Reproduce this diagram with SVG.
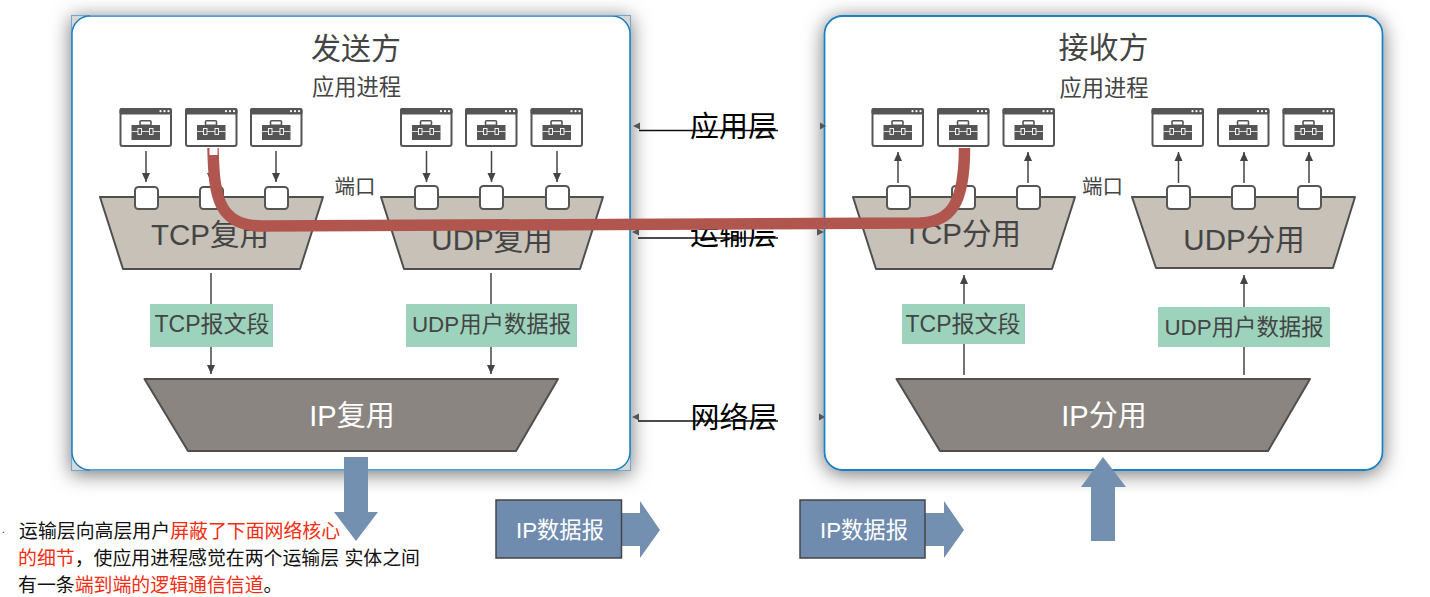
<svg xmlns="http://www.w3.org/2000/svg" width="1430" height="597" viewBox="0 0 1430 597">
<style>
text{font-family:"Liberation Sans","Noto Sans CJK SC",sans-serif;fill:#444}
.tm{text-anchor:middle}
.trap{fill:#c7c1b7;stroke:#4f4f4f;stroke-width:2;stroke-linejoin:round}
.ip{fill:#8a8581;stroke:#4f4f4f;stroke-width:2;stroke-linejoin:round}
.port{fill:#fff;stroke:#555;stroke-width:2}
.seg{fill:#9dd3bd}
.blue{fill:#7490b0}
.dg{fill:#6f8cae;stroke:#444;stroke-width:1.5}
.ln{stroke:#444;stroke-width:1.5;fill:none}
.layer{stroke:#111;stroke-width:1.5;fill:none}
.lt{font-size:29px;fill:#000}
.red{fill:#f52c10}
.blk{fill:#111}
.head{fill:#555}
</style>
<defs>
<filter id="sh" x="-10%" y="-10%" width="120%" height="120%">
<feDropShadow dx="0" dy="3" stdDeviation="10" flood-color="#000" flood-opacity="0.55"/>
</filter>
<marker id="ah" markerUnits="userSpaceOnUse" markerWidth="9" markerHeight="10" refX="9" refY="4.5" orient="auto">
<path d="M0 0.5L9 4.5L0 8.500z" fill="#444"/>
</marker>
<g id="win">
<rect x="1" y="1" width="50.5" height="37" rx="2" fill="#fff" stroke="#555" stroke-width="2"/>
<rect x="0" y="0" width="52.500" height="6.500" rx="2" fill="#555"/>
<circle cx="41" cy="3.200" r="1.100" fill="#fff"/><circle cx="45" cy="3.200" r="1.100" fill="#fff"/><circle cx="49" cy="3.200" r="1.100" fill="#fff"/>
<rect x="12" y="17" width="28.500" height="15" fill="#555"/>
<rect x="20.500" y="12.800" width="11" height="4.500" rx="1" fill="none" stroke="#555" stroke-width="1.600"/>
<path d="M12 23.500H40.500" stroke="#fff" stroke-width="0.800"/>
<rect x="18.500" y="20.500" width="3.500" height="6" fill="#555" stroke="#fff" stroke-width="0.900"/>
<rect x="30" y="20.500" width="3.500" height="6" fill="#555" stroke="#fff" stroke-width="0.900"/>
</g>
</defs>
<rect width="1430" height="597" fill="#fff"/>

<g id="sender-box">
<rect x="71.500" y="15.500" width="559" height="455" fill="#d8d8d8" stroke="#6fa8d0" stroke-width="1" filter="url(#sh)"/>
<rect x="72" y="16" width="558" height="454" rx="18" fill="#fff" stroke="#1a80c4" stroke-width="1.500"/>
<path d="M90 15.500H631M90 470.500H631" stroke="#6fa8d0" stroke-width="1" fill="none"/>
<text class="tm" x="356" y="59" font-size="30">发送方</text>
<text class="tm" x="356.500" y="95" font-size="22.300">应用进程</text>
</g>
<g id="receiver-box">
<rect x="824.500" y="16" width="558" height="454" rx="18" fill="#fff" stroke="#1a80c4" stroke-width="1.800" filter="url(#sh)"/>
<text class="tm" x="1103.500" y="58" font-size="30">接收方</text>
<text class="tm" x="1104" y="96" font-size="22.300">应用进程</text>
</g>

<g id="processes">
<use href="#win" x="119.500" y="108"/><use href="#win" x="185" y="108"/><use href="#win" x="250" y="108"/>
<use href="#win" x="400" y="108"/><use href="#win" x="465" y="108"/><use href="#win" x="530.500" y="108"/>
<use href="#win" x="871.500" y="108"/><use href="#win" x="937" y="108"/><use href="#win" x="1002.500" y="108"/>
<use href="#win" x="1151.500" y="108"/><use href="#win" x="1217" y="108"/><use href="#win" x="1282.500" y="108"/>
</g>

<g id="tcp-mux">
<polygon class="trap" points="100,197 323,197 300,269 123,269"/>
<text class="tm" x="210" y="245" font-size="29.500">TCP复用</text>
<rect class="port" x="135" y="187" width="23" height="22" rx="3.500"/><rect class="port" x="200" y="187" width="23" height="22" rx="3.500"/><rect class="port" x="265" y="187" width="23" height="22" rx="3.500"/>
</g>
<g id="udp-mux">
<polygon class="trap" points="381,197 603,197 580,269 404,269"/>
<text class="tm" x="492" y="250" font-size="29.500">UDP复用</text>
<rect class="port" x="415" y="186" width="23" height="23" rx="3.500"/><rect class="port" x="480" y="186" width="23" height="23" rx="3.500"/><rect class="port" x="546" y="186" width="23" height="23" rx="3.500"/>
</g>
<g id="tcp-demux">
<polygon class="trap" points="853,197 1075,197 1052,269 876,269"/>
<text class="tm" x="962" y="244" font-size="29.500">TCP分用</text>
<rect class="port" x="887" y="186" width="23" height="23" rx="3.500"/><rect class="port" x="952" y="186" width="23" height="23" rx="3.500"/><rect class="port" x="1017" y="186" width="23" height="23" rx="3.500"/>
</g>
<g id="udp-demux">
<polygon class="trap" points="1132,197 1355,197 1333,268 1156,268"/>
<text class="tm" x="1244" y="250" font-size="29.500">UDP分用</text>
<rect class="port" x="1167" y="186" width="23" height="23" rx="3.500"/><rect class="port" x="1232" y="186" width="23" height="23" rx="3.500"/><rect class="port" x="1298" y="186" width="23" height="23" rx="3.500"/>
</g>
<g id="port-labels">
<text class="tm" x="355" y="194" font-size="20.500">端口</text>
<text class="tm" x="1102.500" y="194" font-size="20.500">端口</text>
</g>

<g id="connectors">
<path class="ln" marker-end="url(#ah)" d="M146 151V182"/><path class="ln" marker-end="url(#ah)" d="M211 151V182"/><path class="ln" marker-end="url(#ah)" d="M276 151V182"/>
<path class="ln" marker-end="url(#ah)" d="M426.500 151V182"/><path class="ln" marker-end="url(#ah)" d="M491.500 151V182"/><path class="ln" marker-end="url(#ah)" d="M557 151V182"/>
<path class="ln" marker-end="url(#ah)" d="M898 183V152"/><path class="ln" marker-end="url(#ah)" d="M963 183V152"/><path class="ln" marker-end="url(#ah)" d="M1028 183V152"/>
<path class="ln" marker-end="url(#ah)" d="M1178.500 183V152"/><path class="ln" marker-end="url(#ah)" d="M1244 183V152"/><path class="ln" marker-end="url(#ah)" d="M1309 183V152"/>
<path class="ln" marker-end="url(#ah)" d="M211 273V374"/><path class="ln" marker-end="url(#ah)" d="M491 273V374"/>
<path class="ln" marker-end="url(#ah)" d="M964 375V275"/><path class="ln" marker-end="url(#ah)" d="M1244 375V275"/>
</g>

<g id="tcp-segment-l"><rect class="seg" x="150" y="304" width="123" height="43"/><text class="tm" x="212" y="332" font-size="23">TCP报文段</text></g>
<g id="udp-datagram-l"><rect class="seg" x="406" y="304" width="171" height="43"/><text class="tm" x="491.500" y="332" font-size="22.400">UDP用户数据报</text></g>
<g id="tcp-segment-r"><rect class="seg" x="902" y="304" width="123" height="40"/><text class="tm" x="963" y="332" font-size="23">TCP报文段</text></g>
<g id="udp-datagram-r"><rect class="seg" x="1158" y="307" width="172" height="40"/><text class="tm" x="1244" y="335" font-size="22.400">UDP用户数据报</text></g>

<g id="ip-mux">
<polygon class="ip" points="144.500,379 558,379 516,451 188,451"/>
<text class="tm" x="352" y="426" font-size="29" style="fill:#fff">IP复用</text>
</g>
<g id="ip-demux">
<polygon class="ip" points="896.500,379 1310,379 1268,451 940,451"/>
<text class="tm" x="1104" y="426" font-size="29" style="fill:#fff">IP分用</text>
</g>

<g id="layers">
<path class="head" d="M633 126L640 122.500V129.500z"/><path class="head" d="M826 126L820 122.500V129.500z"/>
<path class="layer" d="M639 130.500H778"/>
<text class="lt" x="690" y="137">应用层</text>
<path class="head" d="M632 232L639 228.500V235.500z"/><path class="head" d="M824 232L817 228.500V235.500z"/>
<path class="layer" d="M638 238H778"/>
<text class="lt" x="690" y="245">运输层</text>
<path class="head" d="M632 417L639 413.500V420.500z"/><path class="head" d="M825 417L819 413.500V420.500z"/>
<path class="layer" d="M638 421H778"/>
<text class="lt" x="690.500" y="428">网络层</text>
</g>

<g id="logical-channel">
<path d="M213 148C214 196 218 226 262 226L920 223C950 222 964.500 205 964.500 148" fill="none" stroke="#b0564f" stroke-width="11.500"/>
<rect x="209.500" y="147" width="8" height="8" fill="#fff"/>
</g>

<g id="down-arrow"><polygon class="blue" points="344,457 368,457 368,512 378,512 356,541 334,512 344,512"/></g>
<g id="up-arrow"><polygon class="blue" points="1103,457 1126,487 1115,487 1115,541 1091,541 1091,487 1081,487"/></g>

<g id="ip-datagram-1">
<polygon class="blue" points="620,513 640,513 640,501 660,530 640,558 640,546 620,546"/>
<rect class="dg" x="496" y="500" width="125.500" height="58"/>
<text x="516" y="538" font-size="22.300" style="fill:#fff">IP数据报</text>
</g>
<g id="ip-datagram-2">
<polygon class="blue" points="924,513 944,513 944,501 964,530 944,558 944,546 924,546"/>
<rect class="dg" x="800" y="500" width="125" height="58"/>
<text x="820" y="538" font-size="22.300" style="fill:#fff">IP数据报</text>
</g>

<g id="note" font-size="18.900">
<text x="2" y="533" font-size="10" class="blk">.</text>
<text x="19" y="538" class="blk">运输层向高层用户<tspan class="red">屏蔽了下面网络核心</tspan></text>
<text x="18" y="565" class="blk"><tspan class="red">的细节</tspan>，使应用进程感觉在两个运输层 实体之间</text>
<text x="18" y="592" class="blk">有一条<tspan class="red">端到端的逻辑通信信道</tspan>。</text>
</g>
</svg>
